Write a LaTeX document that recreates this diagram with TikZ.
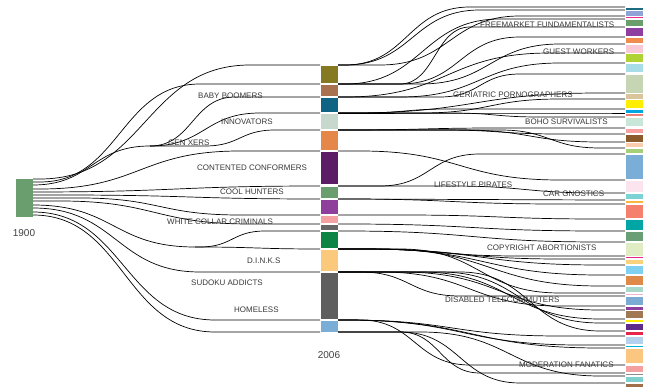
\documentclass[tikz,border=0pt]{standalone}
\usepackage{fontspec}
\setmainfont{Liberation Sans}
\usetikzlibrary{calc}
\newcommand\mybox[5]{\definecolor{c#1}{HTML}{#5}\node[bx,fill=c#1,minimum height=#4pt] (#1) at (#2,#3) {};}
\newcommand\lnkx[4]{\draw[lk] let \p1=(#1), \p2=(#2) in (\p1) -- (#3pt,\y1) .. controls ({(#3+#4)*0.5pt},\y1) and ({(#3+#4)*0.5pt},\y2) .. (#4pt,\y2) -- (\p2);}
\begin{document}
\begin{tikzpicture}[x=1pt,y=-1pt,
  bx/.style={rectangle,draw=white,line width=0.5pt,minimum width=18pt,inner sep=0,outer sep=0},
  lk/.style={draw=black,line width=0.7pt},
  lab/.style={anchor=west,inner sep=0,font=\fontsize{8}{9}\selectfont,text=black!78},
  yr/.style={inner sep=0,font=\fontsize{10}{12}\selectfont,text=black!75}]
\useasboundingbox (0,0) rectangle (646,387);
% left exits and branch points
\coordinate (l1) at (33,179);
\coordinate (l2) at (33,182);
\coordinate (l3) at (33,185);
\coordinate (l4) at (33,189);
\coordinate (l5) at (33,192);
\coordinate (l6) at (33,195);
\coordinate (l7) at (33,198);
\coordinate (l8) at (33,201);
\coordinate (l9) at (33,205);
\coordinate (l10) at (33,208);
\coordinate (l11) at (33,212);
\coordinate (l12) at (33,215);
\coordinate (gx) at (150,146);
\coordinate (dk) at (195,247);
\begin{scope}
% middle nodes
\mybox{m1}{329}{74}{18}{857A22}
\mybox{m2}{329}{90}{12}{A8714F}
\mybox{m3}{329}{104.5}{15}{0E6482}
\mybox{m4}{329}{121}{16}{C6D9CC}
\mybox{m5}{329}{140}{20}{E6874A}
\mybox{m6}{329}{167.5}{33}{5C1D66}
\mybox{m7}{329}{192}{12}{6A9E6E}
\mybox{m8}{329}{206.5}{15}{8E3E9B}
\mybox{m9}{329}{219}{8}{F4A1A1}
\mybox{m10}{329}{227}{6}{666666}
\mybox{m11}{329}{239.5}{17}{0E8444}
\mybox{m12}{329}{260}{22}{FBC97C}
\mybox{m13}{329}{295.5}{47}{5E5E5E}
\mybox{m14}{329}{326}{12}{7BAED6}
\mybox{L}{24}{197.5}{39}{6A9E6E}
% right nodes
\mybox{r1}{634}{8.5}{3}{1B6C80}
\mybox{r2}{634}{13}{6}{8FA3D6}
\mybox{r3}{634}{17}{2}{EC2B8C}
\mybox{r4}{634}{22.5}{7}{6A9F6B}
\mybox{r5}{634}{31.5}{9}{8E3FA0}
\mybox{r6}{634}{40}{6}{F28C4E}
\mybox{r7}{634}{48.5}{9}{F9C9D6}
\mybox{r8}{634}{57.5}{9}{B1D235}
\mybox{r9}{634}{67.5}{9}{A8DCE7}
\mybox{r10}{634}{83.5}{19}{C6D6B5}
\mybox{r11}{634}{96}{6}{DAC49C}
\mybox{r12}{634}{103.5}{9}{FFEE00}
\mybox{r13}{634}{111}{4}{00A6E4}
\mybox{r14}{634}{114.5}{3}{EB7F7A}
\mybox{r15}{634}{121.5}{9}{C9E7D8}
\mybox{r16}{634}{130.5}{5}{F6A0A0}
\mybox{r17}{634}{138}{8}{8B5A2B}
\mybox{r18}{634}{144.5}{5}{FBCCAD}
\mybox{r19}{634}{150.5}{5}{A6CF7A}
\mybox{r20}{634}{166.5}{25}{7BAED6}
\mybox{r21}{634}{186}{12}{FCE4EF}
\mybox{r22}{634}{196}{6}{7DD3D3}
\mybox{r23}{634}{201.5}{3}{FAB740}
\mybox{r24}{634}{211}{14}{F5806E}
\mybox{r25}{634}{224.5}{11}{00A6A6}
\mybox{r26}{634}{236}{10}{6A9E74}
\mybox{r27}{634}{249}{14}{E0ECC4}
\mybox{r28}{634}{257}{2}{E8258A}
\mybox{r29}{634}{261.5}{5}{F9D27C}
\mybox{r30}{634}{269.5}{9}{7FD0F1}
\mybox{r31}{634}{280}{10}{E08A4A}
\mybox{r32}{634}{289}{6}{A8D8C8}
\mybox{r33}{634}{294}{2}{F4B2D0}
\mybox{r34}{634}{300.5}{9}{7BAAD2}
\mybox{r35}{634}{308}{4}{8E3FA0}
\mybox{r36}{634}{314}{8}{A07854}
\mybox{r37}{634}{320.5}{3}{FFEE00}
\mybox{r38}{634}{326.5}{7}{5E2A8C}
\mybox{r39}{634}{333}{4}{E8254A}
\mybox{r40}{634}{340}{8}{B4D2EE}
\mybox{r41}{634}{346}{2}{00B4D8}
\mybox{r42}{634}{355.5}{15}{FBC780}
\mybox{r43}{634}{368.5}{7}{F4A0A0}
\mybox{r44}{634}{374}{2}{8C8C8C}
\mybox{r45}{634}{379}{6}{7FCFCF}
\mybox{r46}{634}{385.5}{5}{A0704C}
\end{scope}
% left links
\lnkx{l1}{m1.north west}{40}{250}
\lnkx{l2}{m2.north west}{40}{200}
\lnkx{l3}{gx}{33}{150}
\lnkx{gx}{m3.north west}{150}{235}
\lnkx{gx}{m4.north west}{150}{260}
\lnkx{gx}{m5.north west}{205}{275}
\lnkx{l4}{m6.north west}{40}{240}
\lnkx{l5}{m7.north west}{33}{320}
\lnkx{l6}{m8.north west}{60}{320}
\lnkx{l7}{m9.north west}{80}{240}
\lnkx{l8}{m10.north west}{60}{250}
\lnkx{l9}{dk}{33}{195}
\lnkx{dk}{m11.north west}{200}{265}
\lnkx{dk}{m12.north west}{195}{320}
\lnkx{l10}{m13.north west}{33}{200}
\lnkx{l11}{m14.north west}{33}{215}
\lnkx{l12}{m14.south west}{33}{215}
% right links
\lnkx{m1.north east}{r1.north west}{345}{470}
\lnkx{m1.north east}{r2.north west}{345}{480}
\lnkx{m1.north east}{r3.north west}{380}{520}
\lnkx{m2.north east}{r4.north west}{345}{500}
\lnkx{m2.north east}{r5.north west}{400}{470}
\lnkx{m2.north east}{r6.north west}{400}{520}
\lnkx{m2.north east}{r7.north west}{420}{560}
\lnkx{m3.north east}{r8.north west}{345}{550}
\lnkx{m3.north east}{r9.north west}{400}{560}
\lnkx{m3.north east}{r10.north west}{440}{520}
\lnkx{m4.north east}{r11.north west}{350}{600}
\lnkx{m4.north east}{r12.north west}{420}{560}
\lnkx{m4.north east}{r13.north west}{360}{450}
\lnkx{m4.north east}{r14.north west}{450}{600}
\lnkx{m4.north east}{r15.north west}{450}{540}
\lnkx{m5.north east}{r16.north west}{345}{500}
\lnkx{m5.north east}{r17.north west}{440}{560}
\lnkx{m5.north east}{r18.north west}{460}{600}
\lnkx{m5.north east}{r19.north west}{500}{600}
\lnkx{m6.north east}{r21.north west}{360}{560}
\lnkx{m7.north east}{r20.north west}{380}{480}
\lnkx{m7.north east}{r22.north west}{450}{600}
\lnkx{m8.north east}{r23.north west}{345}{600}
\lnkx{m8.north east}{r24.north west}{345}{560}
\lnkx{m9.north east}{r25.north west}{400}{600}
\lnkx{m10.north east}{r26.north west}{345}{600}
\lnkx{m11.north east}{r27.north west}{345}{600}
\lnkx{m12.north east}{r28.north west}{360}{520}
\lnkx{m12.north east}{r29.north west}{360}{560}
\lnkx{m12.north east}{r30.north west}{360}{600}
\lnkx{m12.north east}{r31.north west}{370}{600}
\lnkx{m12.north east}{r32.north west}{380}{600}
\lnkx{m12.north east}{r33.north west}{400}{560}
\lnkx{m13.north east}{r34.north west}{360}{460}
\lnkx{m13.north east}{r35.north west}{380}{560}
\lnkx{m13.north east}{r36.north west}{400}{600}
\lnkx{m13.north east}{r37.north west}{420}{600}
\lnkx{m13.north east}{r38.north west}{440}{600}
\lnkx{m13.north east}{r39.north west}{460}{600}
\lnkx{m14.north east}{r40.north west}{345}{560}
\lnkx{m14.north east}{r41.north west}{345}{580}
\lnkx{m14.north east}{r42.north west}{345}{600}
\lnkx{m14.north east}{r43.north west}{360}{470}
\lnkx{m14.south east}{r44.north west}{400}{480}
\lnkx{m14.south east}{r45.north west}{420}{600}
\lnkx{m14.south east}{r46.north west}{400}{520}
% labels
\node[lab] (t1) at (198,96) {BABY BOOMERS};
\node[lab] (t2) at (221,122) {INNOVATORS};
\node[lab] (t3) at (168,143) {GEN XERS};
\node[lab] (t4) at (197,168) {CONTENTED CONFORMERS};
\node[lab] (t5) at (220,192) {COOL HUNTERS};
\node[lab] (t6) at (167,222) {WHITE COLLAR CRIMINALS};
\node[lab] (t7) at (247,261) {D.I.N.K.S};
\node[lab] (t8) at (191,283) {SUDOKU ADDICTS};
\node[lab] (t9) at (234,310) {HOMELESS};
\node[lab] (u1) at (480,25) {FREEMARKET FUNDAMENTALISTS};
\node[lab] (u2) at (543,52) {GUEST WORKERS};
\node[lab] (u3) at (453,95) {GERIATRIC PORNOGRAPHERS};
\node[lab] (u4) at (525,122) {BOHO SURVIVALISTS};
\node[lab] (u5) at (434,185) {LIFESTYLE PIRATES};
\node[lab] (u6) at (543,194) {CAR GNOSTICS};
\node[lab] (u7) at (487,248) {COPYRIGHT ABORTIONISTS};
\node[lab] (u8) at (445,300) {DISABLED TELECOMMUTERS};
\node[lab] (u9) at (519,365) {MODERATION FANATICS};
\node[yr] (y1) at (24,233) {1900};
\node[yr] (y2) at (329,355) {2006};
\end{tikzpicture}
\end{document}
